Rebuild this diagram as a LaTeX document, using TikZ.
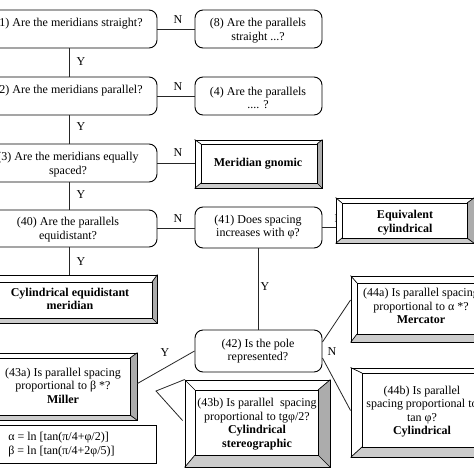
\documentclass[tikz,border=0pt]{standalone}
\usepackage{fontspec}
\setmainfont{Liberation Serif}
\usetikzlibrary{fit,calc}
\newcommand{\bevbox}[9]{%
  \fill[white] (#2,#3) rectangle (#4,#5);
  \fill[bevR] (#4,#3) -- (#4,#5) -- ({#4-#8},{#5-#9}) -- ({#4-#8},{#3+#7}) -- cycle;
  \fill[bevB] (#2,#5) -- (#4,#5) -- ({#4-#8},{#5-#9}) -- ({#2+#6},{#5-#9}) -- cycle;
  \node[draw, line width=0.9pt, inner sep=0pt, fit={(#2,#3) (#4,#5)}] (#1) {};
  \draw ({#2+#6},{#3+#7}) rectangle ({#4-#8},{#5-#9});
  \draw (#1.north west) -- ({#2+#6},{#3+#7}) (#1.north east) -- ({#4-#8},{#3+#7})
        (#1.south west) -- ({#2+#6},{#5-#9}) (#1.south east) -- ({#4-#8},{#5-#9});
}
\begin{document}
\begin{tikzpicture}[x=1pt,y=-1pt, line width=0.7pt,
  bevR/.style={fill=gray!65},
  bevB/.style={fill=gray!40},
  qbox/.style={draw, line width=0.9pt, rounded corners=8pt, inner sep=0pt, fill=white},
  txt/.style={align=center, inner sep=0pt, font=\fontsize{12}{13.5}\selectfont},
  lab/.style={inner sep=0pt, font=\fontsize{12}{13.5}\selectfont},
  conn/.style={draw=black!85, line width=0.8pt}]
\useasboundingbox (0,0) rectangle (474,474);
\clip (0,0) rectangle (474,474);
\fill[white] (0,0) rectangle (474,474);

% question boxes
\node[qbox, fit={(-18,10) (157,48)}] (q1) {};
\node[qbox, fit={(195,10) (322,48)}] (q8) {};
\node[qbox, fit={(-18,77) (157,115)}] (q2) {};
\node[qbox, fit={(195,77) (322,115)}] (q4) {};
\node[qbox, fit={(-18,144) (157,182)}] (q3) {};
\node[qbox, fit={(-18,210) (157,247)}] (q40) {};
\node[qbox, fit={(195,207) (322,248)}] (q41) {};
\node[qbox, fit={(195,330) (322,372)}] (q42) {};

\node[txt] (t1) at (69,24) {(1) Are the meridians straight?};
\node[txt] (t8) at (258,30.5) {(8) Are the parallels\\straight ...?};
\node[txt] (t2) at (69,91) {(2) Are the meridians parallel?};
\node[txt] (t4) at (258,98) {(4) Are the parallels\\.... ?};
\node[txt] (t3) at (68,164.5) {(3) Are the meridians equally\\spaced?};
\node[txt] (t40) at (68,229.5) {(40) Are the parallels\\equidistant?};
\node[txt] (t41) at (258,227) {(41) Does spacing\\increases with φ?};
\node[txt] (t42) at (258,351) {(42) Is the pole\\represented?};

% label partly hidden under the next box
\node[lab] (nE) at (339,219) {N};

% connectors (top part)
\draw[conn] (q1.east) -- (q1.east -| q8.west);
\draw[conn] (q1.south) -- (q1.south |- q2.north);
\draw[conn] (q2.east) -- (q2.east -| q4.west);
\draw[conn] (q2.south) -- (q2.south |- q3.north);
\draw[conn] (q3.east) -- (q3.east -| 195,0);
\draw[conn] (q3.south) -- (q3.south |- q40.north);
\draw[conn] (q40.east) -- (q40.east -| q41.west);
\draw[conn] (q40.south) -- (q40.south |- 0,275);
\draw[conn] (q41.east) -- (q41.east -| 336,0);
\draw[conn] (q41.south) -- (q41.south |- q42.north);

% bevelled result boxes
\bevbox{gnomic}{195}{140}{322}{188}{6}{4}{5}{5}
\node[txt, font=\fontsize{12}{13.5}\selectfont\bfseries] (tg) at (258,163.5) {Meridian gnomic};
\bevbox{equiv}{336}{198}{474}{243}{6}{5}{7}{5}
\node[txt, font=\fontsize{12}{13.5}\selectfont\bfseries] (te) at (405,222.5) {Equivalent\\cylindrical};
\bevbox{cem}{-12}{275}{157}{323}{6}{7}{5}{5}
\node[txt, font=\fontsize{12}{13.5}\selectfont\bfseries] (tc) at (70,299) {Cylindrical equidistant\\meridian};
\bevbox{m44a}{351}{276}{499}{342}{6}{7}{6}{8}
\node[txt] (t44a) at (421,306) {(44a) Is parallel spacing\\proportional to α *?\\\textbf{Mercator}};
\bevbox{m43a}{-10}{353}{137}{420}{6}{5}{7}{5}
\node[txt] (t43a) at (63,385.5) {(43a) Is parallel spacing\\proportional to β *?\\\textbf{Miller}};
\bevbox{m43b}{185}{380}{330}{467}{10}{10}{12}{12}
\node[txt] (t43b) at (257,424) {(43b) Is parallel\ \ spacing\\proportional to tgφ/2?\\\textbf{Cylindrical}\\\textbf{stereographic}};
\bevbox{m44b}{351}{368}{500}{457}{11}{5}{8}{10}
\node[txt] (t44b) at (422,411.5) {(44b) Is parallel\\spacing proportional to\\tan φ?\\\textbf{Cylindrical}};

% formula box
\node[draw, line width=0.9pt, inner sep=0pt, fit={(-5,425) (156,463)}] (fbox) {};
\node[txt, align=left, anchor=west] (tf) at (8,444.5) {α = ln [tan(π/4+φ/2)]\\β = ln [tan(π/4+2φ/5)]};

% slanted connectors
\coordinate (wedge) at (156,391);
\draw[conn] (q42.west) -- ($(m43a.east)+(0,-3)$);
\draw[conn] (m43b.north west) -- (wedge) -- ($(m43b.west)+(-2,-3)$);
\draw[conn] ($(q42.east)+(0,-9)$) -- ($(m44a.west)+(0,-9)$);
\draw[conn] ($(q42.east)+(0,7)$) -- ($(m44b.west)+(0,-2)$);

% Y / N labels
\node[lab] (n1) at (178,20) {N};
\node[lab] (n2) at (178,87) {N};
\node[lab] (n3) at (178,153) {N};
\node[lab] (n4) at (178,219) {N};
\node[lab] (y1) at (81,62) {Y};
\node[lab] (y2) at (81,127) {Y};
\node[lab] (y3) at (81,195) {Y};
\node[lab] (y4) at (81,262) {Y};
\node[lab] (y5) at (265,287) {Y};
\node[lab] (y6) at (165,353) {Y};
\node[lab] (n5) at (332,352) {N};
\end{tikzpicture}
\end{document}
